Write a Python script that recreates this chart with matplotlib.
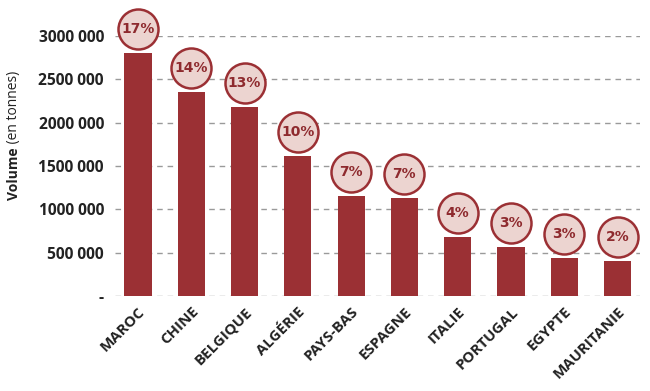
import matplotlib
matplotlib.use("Agg")
import matplotlib.pyplot as plt
import matplotlib.transforms as mtransforms
from matplotlib.ticker import FuncFormatter

countries = ["MAROC", "CHINE", "BELGIQUE", "ALGÉRIE", "PAYS-BAS", "ESPAGNE",
             "ITALIE", "PORTUGAL", "EGYPTE", "MAURITANIE"]
volumes = [2805000, 2355000, 2180000, 1620000, 1155000, 1128000,
           678000, 570000, 438000, 405000]
shares = [17, 14, 13, 10, 7, 7, 4, 3, 3, 2]
yticks = [0, 500000, 1000000, 1500000, 2000000, 2500000, 3000000]

BAR = "#9b3034"
FILL = "#ecd4d0"
TXT = "#222222"
FONT = ["Open Sans", "DejaVu Sans"]
plt.rcParams["font.family"] = FONT

fig = plt.figure(figsize=(6.5, 3.91), dpi=100)
ax = fig.add_axes([115/650, 1-296/391, (640-115)/650, 260/391])

x = list(range(len(countries)))
ax.bar(x, volumes, width=0.51, color=BAR, zorder=3)

ax.set_ylim(0, 3000000)
ax.set_xlim(-0.43, len(countries) - 1 + 0.42)
ax.set_yticks(yticks)
def fmt(v, pos):
    if v == 0:
        return "-"
    s = f"{int(v):,}".replace(",", " ")
    return s.replace(" ", "", 1) if s.count(" ") > 1 else s
ax.yaxis.set_major_formatter(FuncFormatter(fmt))
ax.grid(axis="y", color="#9a9a9a", linestyle=(0, (4, 3.5)), linewidth=1.0, zorder=0)
ax.tick_params(axis="y", length=0, pad=8, labelsize=11.2, labelcolor=TXT)
ax.tick_params(axis="x", length=0, pad=4)
for lab in ax.get_yticklabels():
    lab.set_fontweight("bold")
for s in ax.spines.values():
    s.set_visible(False)

ax.set_xticks(x)
ax.set_xticklabels(countries, rotation=45, ha="right", va="top",
                   rotation_mode="anchor", fontsize=10.8, fontweight="bold", color=TXT)
for lab in ax.get_xticklabels():
    lab.set_transform(lab.get_transform() + mtransforms.ScaledTranslation(0/100, -3/100, fig.dpi_scale_trans))

off = mtransforms.offset_copy(ax.transData, fig=fig, x=0, y=24, units="dots")
ax.scatter(x, volumes, s=(40*72/100)**2, facecolor=FILL, edgecolor=BAR,
           linewidth=1.8, transform=off, clip_on=False, zorder=5)
for xi, v, p in zip(x, volumes, shares):
    ax.text(xi, v, f"{p}%", transform=off, ha="center", va="center",
            fontsize=10, fontweight="bold", color="#8e2a2e", zorder=6, clip_on=False,
            family=["DejaVu Sans"])

t1 = fig.text(14/650, 1-200/391, "Volume", rotation=90, ha="center", va="bottom",
              fontsize=10, fontweight="bold", color=TXT)
ax.annotate(" (en tonnes)", xy=(0.5, 1), xycoords=t1, rotation=90, ha="center",
            va="bottom", fontsize=10, color=TXT, annotation_clip=False)

fig.savefig("out.png", dpi=100)
